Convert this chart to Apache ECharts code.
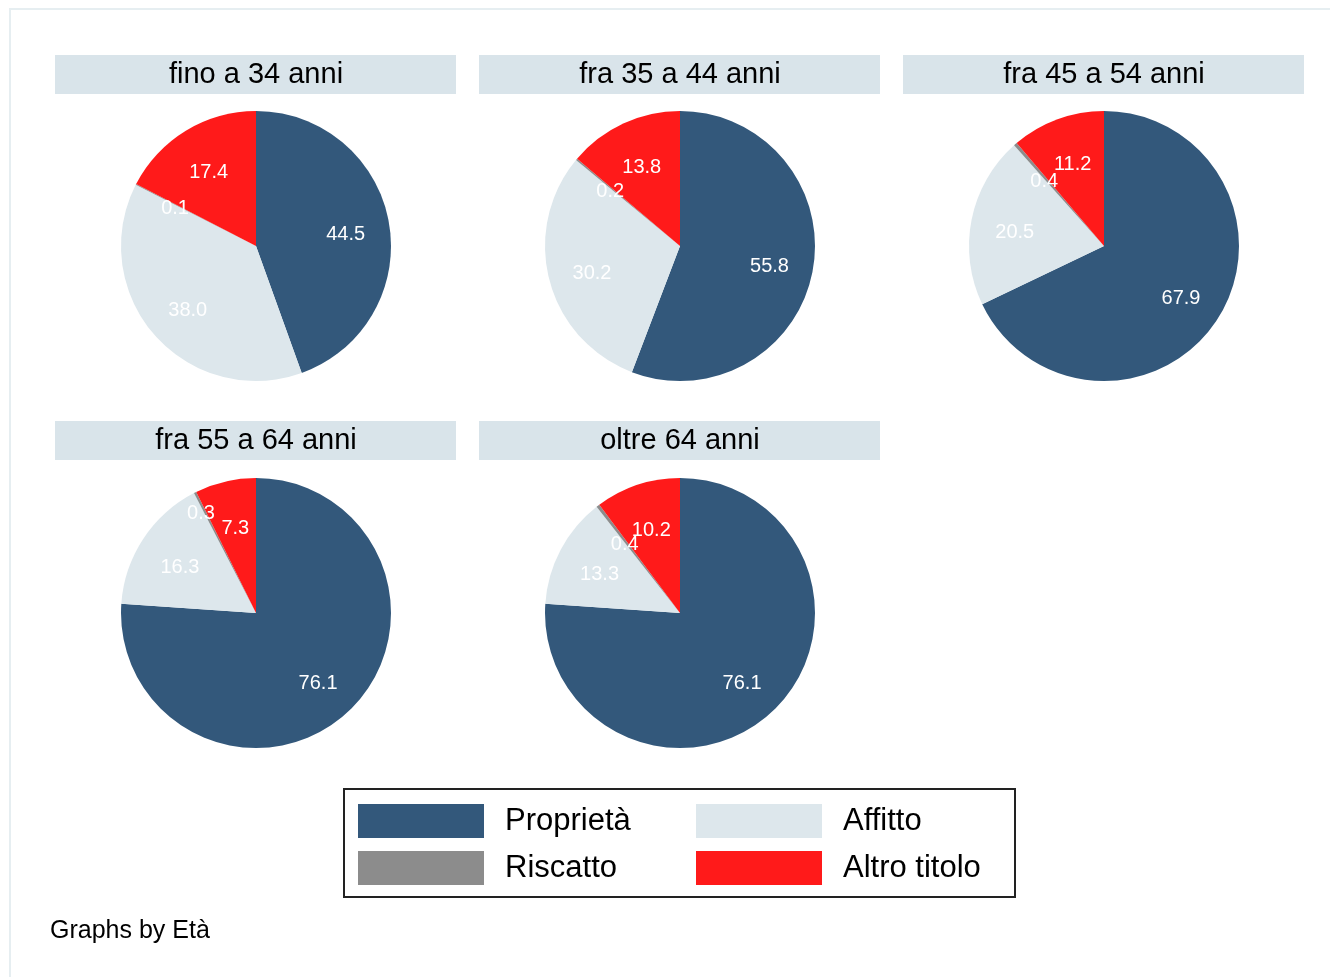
<!DOCTYPE html>
<html>
<head>
<meta charset="utf-8">
<script src="https://cdn.jsdelivr.net/npm/echarts@6/dist/echarts.min.js"></script>
<style>
html,body{margin:0;padding:0;background:#fff;}
#main{width:1330px;height:977px;}
</style>
</head>
<body>
<div id="main"></div>
<script>
const panels = ['fino a 34 anni', 'fra 35 a 44 anni', 'fra 45 a 54 anni', 'fra 55 a 64 anni', 'oltre 64 anni'];
const categories = ['Proprietà', 'Affitto', 'Riscatto', 'Altro titolo'];
const proprieta = [44.5, 55.8, 67.9, 76.1, 76.1];
const affitto = [38.0, 30.2, 20.5, 16.3, 13.3];
const riscatto = [0.1, 0.2, 0.4, 0.3, 0.4];
const altro = [17.4, 13.8, 11.2, 7.3, 10.2];
const note = 'Graphs by Età';

const colors = ['#33587b', '#dde7ec', '#8c8c8c', '#ff1a1a'];
const FONT = '"Liberation Sans", Arial, Helvetica, sans-serif';

const chart = echarts.init(document.getElementById('main'));

const centersX = [256, 680, 1104, 256, 680];
const centersY = [246, 246, 246, 613, 613];
const headerY = [55, 55, 55, 421, 421];
const R = 135;
// label nudges (panel index, category index) -> offset
const labelNudge = { '3-2': [-14, -18] };

const series = [];
const labelSeries = [];
const graphics = [];

graphics.push({
  type: 'rect', shape: { x: 10, y: 9, width: 1340, height: 1000 },
  style: { fill: 'none', stroke: '#e6eef1', lineWidth: 2 }, silent: true
});

panels.forEach((p, i) => {
  const vals = [proprieta[i], affitto[i], riscatto[i], altro[i]];
  const data = categories.map((c, k) => ({ name: c, value: vals[k], itemStyle: { color: colors[k] } }));
  series.push({
    type: 'pie', center: [centersX[i], centersY[i]], radius: [0, R],
    startAngle: 90, clockwise: true, silent: true, animation: false,
    avoidLabelOverlap: false,
    label: { show: false }, labelLine: { show: false },
    itemStyle: { borderWidth: 0 },
    data: data
  });
  labelSeries.push({
    type: 'pie', center: [centersX[i], centersY[i]], radius: [41, R],
    startAngle: 90, clockwise: true, silent: true, animation: false,
    avoidLabelOverlap: false,
    labelLayout: { hideOverlap: false },
    itemStyle: { color: 'rgba(0,0,0,0)', borderWidth: 0 },
    label: {
      show: true, position: 'inside', color: '#ffffff', fontFamily: FONT, fontSize: 20,
      offset: [0, 4],
      formatter: (q) => q.value.toFixed(1)
    },
    labelLine: { show: false },
    data: categories.map((c, k) => {
      const d = { name: c, value: vals[k] };
      const n = labelNudge[i + '-' + k];
      if (n) d.label = { offset: n };
      return d;
    })
  });
  graphics.push({
    type: 'rect', shape: { x: centersX[i] - 201, y: headerY[i], width: 401, height: 39 },
    style: { fill: '#d9e4ea' }, silent: true
  });
  graphics.push({
    type: 'text', x: centersX[i], y: headerY[i] + 20,
    style: { text: p, font: '29px ' + FONT, fill: '#000', textAlign: 'center', textVerticalAlign: 'middle' },
    silent: true
  });
});

graphics.push({
  type: 'rect', shape: { x: 344, y: 789, width: 671, height: 108 },
  style: { fill: 'none', stroke: '#222', lineWidth: 2 }, silent: true
});
graphics.push({
  type: 'text', x: 50, y: 931,
  style: { text: note, font: '25px ' + FONT, fill: '#000', textAlign: 'left', textVerticalAlign: 'middle' },
  silent: true
});

const legendCommon = {
  orient: 'vertical', itemWidth: 126, itemHeight: 34, itemGap: 13, padding: 0,
  icon: 'rect', selectedMode: false,
  textStyle: { fontFamily: FONT, fontSize: 31, color: '#000', padding: [4, 0, 0, 16] }
};

chart.setOption({
  backgroundColor: '#ffffff',
  animation: false,
  legend: [
    Object.assign({ left: 358, top: 804, data: [categories[0], categories[2]] }, legendCommon),
    Object.assign({ left: 696, top: 804, data: [categories[1], categories[3]] }, legendCommon)
  ],
  series: series.concat(labelSeries),
  graphic: graphics
});
</script>
</body>
</html>
